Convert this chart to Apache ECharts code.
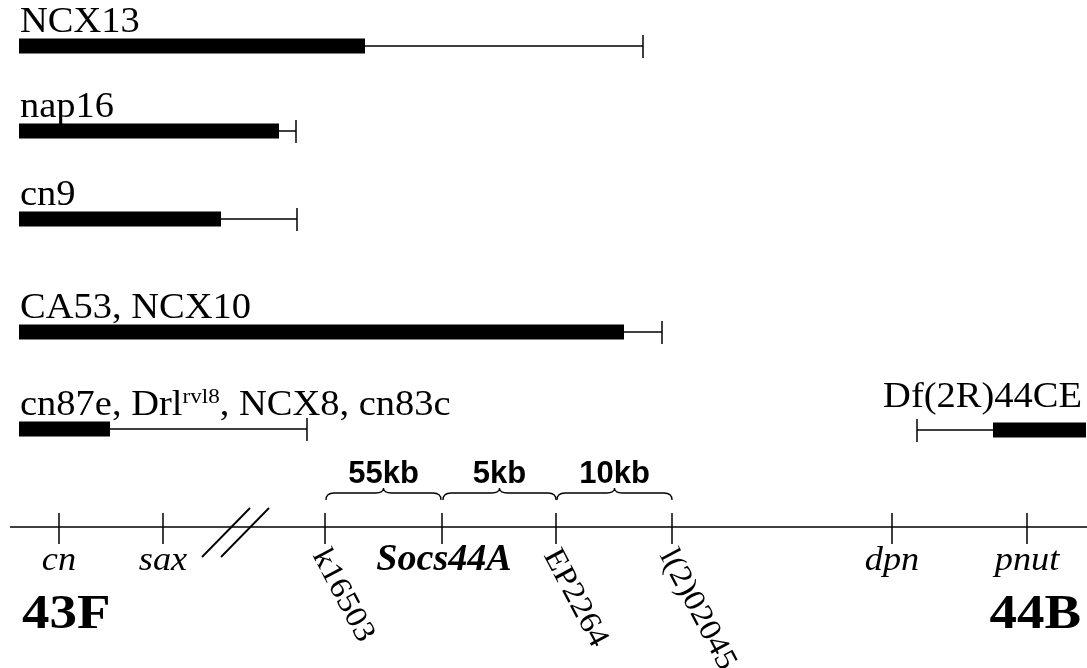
<!DOCTYPE html>
<html><head><meta charset="utf-8">
<script src="https://cdn.jsdelivr.net/npm/echarts@6/dist/echarts.min.js"></script>
<style>html,body{margin:0;padding:0;background:#fff}#c{width:1087px;height:668px}</style>
</head><body><div id="c"></div>
<script>
// ---- data (map units == horizontal position along the drawing) ----
const rowLabels = ['NCX13', 'nap16', 'cn9', 'CA53, NCX10', 'cn87e, Drl{s|rvl8}, NCX8, cn83c', 'Df(2R)44CE'];
const rowY = [46, 131, 219, 332, 429, 430];
const solidFrom = [19, 19, 19, 19, 19, 993];
const solidTo = [365, 279, 221, 624, 110, 1086];
const extentTo = [643, 296, 297, 662, 307, 917];
const labelSide = ['left', 'left', 'left', 'left', 'left', 'right'];

const tickPos = [59, 163, 325, 442, 556, 672, 892, 1027];
const tickLabels = ['cn', 'sax', 'k16503', 'Socs44A', 'EP2264', 'l(2)02045', 'dpn', 'pnut'];
const tickKind = ['gene', 'gene', 'insert', 'locus', 'insert', 'insert', 'gene', 'gene'];

const braceFrom = [326, 443, 557];
const braceTo = [441, 556, 672];
const braceLabels = ['55kb', '5kb', '10kb'];

const breakPos = [226, 245];
const bandLabels = ['43F', '44B'];
const bandPos = [22, 1081];
const axisSpan = [10, 1087];
const axisY = 527;

const SERIF = '"Liberation Serif", "Times New Roman", serif';
const SANS = '"Liberation Sans", Arial, sans-serif';
const SX = 1.1;
const INK = '#000';

const chart = echarts.init(document.getElementById('c'), null, {renderer: 'canvas'});

function deletionItem(params, api) {
  const i = params.dataIndex;
  const y = rowY[i];
  const a = api.coord([solidFrom[i], y - 7.5]);
  const b = api.coord([solidTo[i], y + 7.5]);
  const children = [];
  children.push({type: 'rect', shape: {x: a[0], y: a[1], width: b[0] - a[0], height: b[1] - a[1]}, style: {fill: INK}});
  let t0, t1;
  if (extentTo[i] > solidTo[i]) { t0 = solidTo[i]; t1 = extentTo[i]; } else { t0 = extentTo[i]; t1 = solidFrom[i]; }
  const p0 = api.coord([t0, y]), p1 = api.coord([t1, y]);
  children.push({type: 'line', shape: {x1: p0[0], y1: p0[1], x2: p1[0], y2: p1[1]}, style: {stroke: INK, lineWidth: 1.5}});
  const c0 = api.coord([extentTo[i], y - 11]), c1 = api.coord([extentTo[i], y + 12]);
  children.push({type: 'line', shape: {x1: c0[0], y1: c0[1], x2: c1[0], y2: c1[1]}, style: {stroke: INK, lineWidth: 1.5}});
  const right = labelSide[i] === 'right';
  const lp = api.coord([right ? 1082 : 20, y - (right ? 33 : 24)]);
  children.push({type: 'text', x: lp[0], y: lp[1], scaleX: SX,
    style: {text: '{n|' + rowLabels[i].replace(/\{s\|([^}]*)\}/g, '}{s|$1}{n|') + '}',
      rich: {n: {fontSize: 35, fontFamily: SERIF, fill: INK, lineHeight: 37, verticalAlign: 'bottom'},
             s: {fontSize: 21, fontFamily: SERIF, fill: INK, verticalAlign: 'top'}},
      align: right ? 'right' : 'left', verticalAlign: 'middle', fill: INK}});
  return {type: 'group', children};
}

function tickItem(params, api) {
  const i = params.dataIndex;
  const x = tickPos[i];
  const a = api.coord([x, 513]), b = api.coord([x, 544]);
  const children = [{type: 'line', shape: {x1: a[0], y1: a[1], x2: b[0], y2: b[1]}, style: {stroke: INK, lineWidth: 1.5}}];
  const k = tickKind[i];
  if (k === 'gene') {
    const p = api.coord([x, 561]);
    children.push({type: 'text', x: p[0], y: p[1], scaleX: SX,
      style: {text: tickLabels[i], fontSize: 33, fontStyle: 'italic', fontFamily: SERIF, fill: INK, align: 'center', verticalAlign: 'middle'}});
  } else if (k === 'locus') {
    const p = api.coord([x + 2, 560]);
    children.push({type: 'text', x: p[0], y: p[1], scaleX: 1.03,
      style: {text: tickLabels[i], fontSize: 37, fontStyle: 'italic', fontWeight: 'bold', fontFamily: SERIF, fill: INK, align: 'center', verticalAlign: 'middle'}});
  } else {
    const p = api.coord([x + 8, 544]);
    children.push({type: 'text', x: p[0], y: p[1], scaleX: 1.08, rotation: -62 * Math.PI / 180,
      style: {text: tickLabels[i], fontSize: 31, fontFamily: SERIF, fill: INK, align: 'left', verticalAlign: 'top'}});
  }
  return {type: 'group', children};
}

function braceItem(params, api) {
  const i = params.dataIndex;
  const l = api.coord([braceFrom[i], 500]);
  const r = api.coord([braceTo[i], 500]);
  const m = (l[0] + r[0]) / 2;
  const yb = l[1], yf = l[1] - 7, yt = l[1] - 12;
  const d = `M${l[0]},${yb} Q${l[0]},${yf} ${l[0] + 8},${yf} L${m - 8},${yf} Q${m},${yf} ${m},${yt} Q${m},${yf} ${m + 8},${yf} L${r[0] - 8},${yf} Q${r[0]},${yf} ${r[0]},${yb}`;
  const tp = api.coord([(braceFrom[i] + braceTo[i]) / 2, 474]);
  return {type: 'group', children: [
    {type: 'path', shape: {pathData: d}, style: {stroke: INK, lineWidth: 1.3, fill: null}},
    {type: 'text', x: tp[0], y: tp[1], style: {text: braceLabels[i], fontSize: 31, fontWeight: 'bold', fontFamily: SANS, fill: INK, align: 'center', verticalAlign: 'middle'}}
  ]};
}

function breakItem(params, api) {
  const x = breakPos[params.dataIndex];
  const a = api.coord([x - 24, 557]), b = api.coord([x + 24, 508]);
  return {type: 'line', shape: {x1: a[0], y1: a[1], x2: b[0], y2: b[1]}, style: {stroke: INK, lineWidth: 1.8}};
}

function bandItem(params, api) {
  const i = params.dataIndex;
  const p = api.coord([bandPos[i], 615]);
  return {type: 'text', x: p[0], y: p[1], scaleX: 1.12,
    style: {text: bandLabels[i], fontSize: 49, fontWeight: 'bold', fontFamily: SERIF, fill: INK, align: i === 0 ? 'left' : 'right', verticalAlign: 'middle'}};
}

chart.setOption({
  animation: false,
  backgroundColor: '#fff',
  grid: {left: 0, right: 0, top: 0, bottom: 0},
  xAxis: {type: 'value', min: 0, max: 1087, show: false},
  yAxis: {type: 'value', min: 0, max: 668, inverse: true, show: false},
  series: [
    {type: 'line', data: [[axisSpan[0], axisY], [axisSpan[1], axisY]], symbol: 'none', lineStyle: {color: INK, width: 1.5}, silent: true},
    {type: 'custom', renderItem: deletionItem, data: rowY.map((y, i) => [solidFrom[i], y]), encode: {x: 0, y: 1}, silent: true},
    {type: 'custom', renderItem: tickItem, data: tickPos.map(x => [x, axisY]), encode: {x: 0, y: 1}, silent: true},
    {type: 'custom', renderItem: braceItem, data: braceFrom.map((x, i) => [x, braceTo[i]]), encode: {x: [0, 1]}, silent: true},
    {type: 'custom', renderItem: breakItem, data: breakPos.map(x => [x, axisY]), encode: {x: 0, y: 1}, silent: true},
    {type: 'custom', renderItem: bandItem, data: bandPos.map(x => [x, 615]), encode: {x: 0, y: 1}, silent: true}
  ]
});
</script></body></html>
